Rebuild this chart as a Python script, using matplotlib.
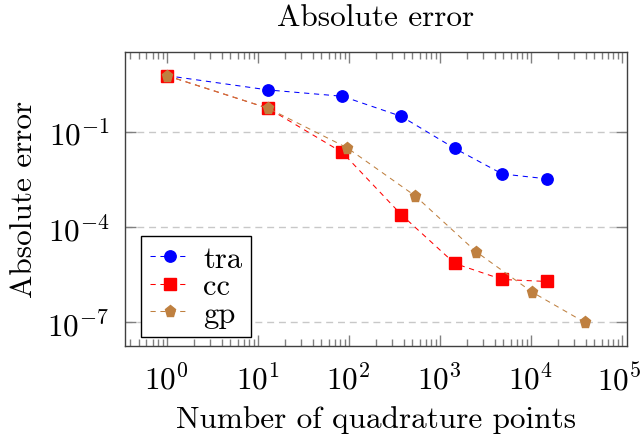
import numpy as np
import matplotlib
matplotlib.use("Agg")
import matplotlib.pyplot as plt
import matplotlib.transforms as mtransforms
from matplotlib.ticker import FuncFormatter, LogLocator, NullLocator, FixedLocator

# values
tra_n = [1, 13, 85, 377, 1457, 4865, 15121]
tra_err = [5.85, 2.07, 1.31, 0.306, 0.030, 0.0047, 0.0033]

cc_n = [1, 13, 85, 377, 1457, 4865, 15121]
cc_err = [5.85, 0.547, 0.0224, 2.48e-4, 7.2e-6, 2.25e-6, 1.95e-6]

gp_n = [1, 13, 96, 537, 2500, 10350, 39250]
gp_err = [5.85, 0.55, 0.0313, 9.6e-4, 1.69e-5, 9.0e-7, 1.0e-7]

plt.rcParams["font.family"] = ["cmr10", "DejaVu Serif"]
plt.rcParams["mathtext.fontset"] = "cm"
plt.rcParams["axes.unicode_minus"] = False

fig = plt.figure(figsize=(6.41, 4.39), dpi=100)
ax = fig.add_axes([0.195, 0.2103, 0.783, 0.6697])

dash = (0, (5, 4.5))
ax.plot(tra_n, tra_err, color="blue", linestyle=dash, linewidth=0.75,
        marker="o", markersize=8.2, label="tra", zorder=3)
ax.plot(cc_n, cc_err, color="red", linestyle=dash, linewidth=0.75,
        marker="s", markersize=8, label="cc", zorder=4)
ax.plot(gp_n, gp_err, color="#bf8040", linestyle=dash, linewidth=0.75,
        marker="p", markersize=8.2, label="gp", zorder=5)

ax.set_xscale("log")
ax.set_yscale("log")
ax.set_xlim(10**-0.458, 10**5.055)
ax.set_ylim(10**-7.73, 10**1.52)

ax.xaxis.set_major_locator(LogLocator(base=10, numticks=10))
ax.xaxis.set_minor_locator(LogLocator(base=10, subs=np.arange(2, 10), numticks=20))
ax.yaxis.set_major_locator(FixedLocator([1e-1, 1e-4, 1e-7]))
ax.yaxis.set_minor_locator(NullLocator())


def sf_pow(v, pos):
    e = int(round(np.log10(v)))
    return r"$\mathsf{10^{%d}}$" % e


ax.xaxis.set_major_formatter(FuncFormatter(sf_pow))
ax.yaxis.set_major_formatter(FuncFormatter(sf_pow))

ax.tick_params(which="both", direction="in", top=True, right=True,
               color="#808080", width=1.0, labelsize=22.5)
ax.tick_params(axis="x", which="major", length=7.7, pad=12)
ax.tick_params(axis="y", which="major", length=7.7, pad=11)
ax.tick_params(which="minor", length=4.8)

ax.grid(True, axis="y", which="major", color="#c8c8c8",
        linestyle=(0, (5, 3.5)), linewidth=1.0)
ax.set_axisbelow(True)

for s in ax.spines.values():
    s.set_color("#404040")
    s.set_linewidth(1.0)

ax.set_title("Absolute error", fontsize=22.5, pad=19)
ax.set_xlabel("Number of quadrature points", fontsize=22.5, labelpad=7)
ax.set_ylabel("Absolute error", fontsize=22.5, labelpad=7)

leg = ax.legend(loc="lower left", bbox_to_anchor=(0.031, 0.030),
                borderaxespad=0, fontsize=22, handlelength=1.3,
                handletextpad=0.45, labelspacing=0.0, borderpad=0.3,
                fancybox=False, framealpha=1, edgecolor="black")
leg.get_frame().set_linewidth(1.0)

# keep the 10^5 label inside the picture
fig.canvas.draw()
shift = mtransforms.ScaledTranslation(-3 / 100, 0, fig.dpi_scale_trans)
for t in ax.xaxis.get_major_ticks():
    if abs(t.get_loc() - 1e5) < 1:
        t.label1.set_transform(t.label1.get_transform() + shift)

fig.savefig("out.png", dpi=100)
